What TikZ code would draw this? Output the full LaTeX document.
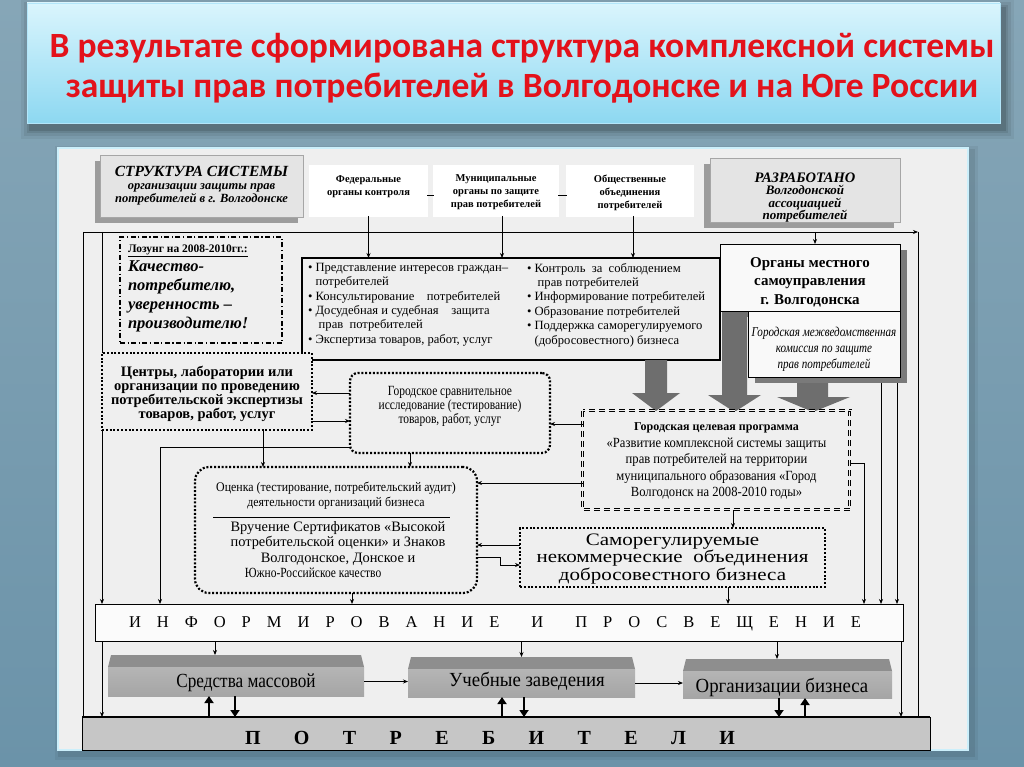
\documentclass[tikz,border=0pt]{standalone}
\usepackage{fontspec}
\setmainfont{Liberation Serif}
\newfontfamily\titlefont{Carlito}
\newfontfamily\condfont[FakeStretch=0.82]{Liberation Serif}
\newfontfamily\semicond[FakeStretch=0.9]{Liberation Serif}
\newfontfamily\widefont[FakeStretch=1.2]{Liberation Serif}
\newfontfamily\blockfont[FakeStretch=0.94]{Liberation Serif}
\newfontfamily\blockfontn[FakeStretch=0.86]{Liberation Serif}
\usetikzlibrary{arrows.meta,calc}
\definecolor{bgtop}{HTML}{86A6B7}
\definecolor{bgbot}{HTML}{6B93A9}
\definecolor{ttop}{HTML}{DAF5FD}
\definecolor{tbot}{HTML}{8DD8F1}
\definecolor{titlered}{HTML}{E3121B}
\definecolor{panel}{HTML}{EFEFEF}
\definecolor{panelbd}{HTML}{CBEFFB}
\definecolor{arrowgrey}{HTML}{6E6E6E}
\definecolor{shadowgrey}{HTML}{9C9C9C}
\definecolor{darkshadow}{HTML}{7A7A7A}
\definecolor{boxgrey}{HTML}{E4E4E4}
\definecolor{blocktop}{HTML}{8E8E8E}
\definecolor{blockfront}{HTML}{B5B5B5}
\definecolor{blockfrontb}{HTML}{A5A5A5}
\definecolor{consumer}{HTML}{C6C6C6}
\begin{document}
\begin{tikzpicture}[x=1pt,y=-1pt,
  every node/.style={inner sep=0pt,outer sep=0pt},
  ln/.style={line width=0.8pt},
  arr/.style={line width=0.8pt,-{Stealth[length=5pt,width=4pt]}},
  fat/.style={line width=2.4pt,-{Triangle[length=7pt,width=9pt]}},
  dotbox/.style={draw,line width=2.2pt,dash pattern=on 2pt off 1.8pt,fill=panel},
  topbox/.style={draw,double,double distance=1.4pt,line width=0.7pt,fill=white},
  toptext/.style={align=center,font=\bfseries\fontsize{10.5}{13}\selectfont},
  greybox/.style={draw=gray!70,line width=0.4pt,fill=boxgrey,align=center},
  bigarrow/.style={fill=arrowgrey},
  blockface/.style={top color=blockfront,bottom color=blockfrontb,draw=none},
  blocklabel/.style={font=\blockfont\fontsize{20}{20}\selectfont}
]
\useasboundingbox (0,0) rectangle (1024,767);
\shade[top color=bgtop,bottom color=bgbot] (0,0) rectangle (1024,767);
% title
\foreach \i/\o in {10/0.05,7/0.07,4/0.09,2/0.12}
  \fill[black,opacity=\o] ({31-\i},{9-\i}) rectangle ({1004+\i},{129+\i});
\shade[top color=ttop,bottom color=tbot] (27,3) rectangle (1000,123);
\draw[white!70!cyan,line width=0.8pt] (27,3) rectangle (1000,123);
\node[text=titlered,font=\titlefont\bfseries\fontsize{35.5}{40}\selectfont,align=center] (title) at (522,68)
  {В результате сформирована структура комплексной системы\\защиты прав потребителей в Волгодонске и на Юге России};
% panel
\foreach \i/\o in {6/0.05,3/0.08}
  \fill[black,opacity=\o] ({61-\i},{152-\i}) rectangle ({972+\i},{754+\i});
\draw[panelbd,line width=2.5pt,fill=panel] (58,148) rectangle (968,750);

% top-left title box
\fill[shadowgrey] (95,161) rectangle (298,223);
\node[greybox,minimum width=203pt,minimum height=62pt,font=\bfseries\itshape\fontsize{12.5}{13}\selectfont] (TL) at (201.5,186)
  {{\fontsize{15.5}{15}\selectfont СТРУКТУРА СИСТЕМЫ}\\организации защиты прав\\потребителей в г. Волгодонске};
% developed-by box
\fill[shadowgrey] (704,164) rectangle (894,228);
\node[greybox,minimum width=190pt,minimum height=64pt] (R) at (805,190) {};
\node[align=center,font=\bfseries\itshape\fontsize{13}{12.3}\selectfont] (Rt) at (805,197.5)
  {{\fontsize{14.5}{14}\selectfont РАЗРАБОТАНО}\\Волгодонской\\ассоциацией\\потребителей};
% three top boxes
\node[topbox,minimum width=117pt,minimum height=50pt] (F) at (368.5,191) {};
\node[toptext] (Ft) at (368.5,186.5) {Федеральные\\органы контроля};
\node[topbox,minimum width=124pt,minimum height=50pt] (M) at (496,191) {};
\node[toptext] (Mt) at (496,192) {Муниципальные\\органы по защите\\прав потребителей};
\node[topbox,minimum width=126pt,minimum height=50pt] (P) at (630,191) {};
\node[toptext] (Pt0) at (630,192.5) {Общественные\\объединения\\потребителей};

% list box
\node[draw,line width=2pt,fill=panel,minimum width=418pt,minimum height=102pt] (L) at (511,309) {};
\node[anchor=north west,align=left,font=\fontsize{12.6}{14.4}\selectfont] (L1) at (308,263)
  {• Представление интересов граждан–\\\hphantom{• }потребителей\\• Консультирование\quad потребителей\\• Досудебная и судебная\quad защита\\\hphantom{• }\ прав\ \ потребителей\\• Экспертиза товаров, работ, услуг};
\node[anchor=north west,align=left,font=\fontsize{12.6}{14.4}\selectfont] (L2) at (527,263)
  {• Контроль\ \ за\ \ соблюдением\\\hphantom{• }\ прав потребителей\\• Информирование потребителей\\• Образование потребителей\\• Поддержка саморегулируемого\\\hphantom{• }(добросовестного) бизнеса};

% slogan
\node[draw,line width=1.2pt,dash pattern=on 5pt off 2.5pt on 1.2pt off 2.5pt,minimum width=162pt,minimum height=106pt] (S) at (201,290) {};
\node[anchor=north west,align=left,font=\bfseries\itshape\fontsize{16.5}{19}\selectfont] (St) at (128,245)
  {{\upshape\fontsize{11.5}{13}\selectfont\underline{Лозунг на 2008-2010гг.:}}\\Качество-\\потребителю,\\уверенность –\\производителю!};

% shadows of local government boxes
\fill[darkshadow] (727,250) rectangle (907,317);
\fill[darkshadow] (755,317) rectangle (907,383);
% big grey arrows
\fill[bigarrow] (645,360) -- (667,360) -- (667,393) -- (680,393) -- (656,411) -- (632,393) -- (645,393) -- cycle;
\fill[bigarrow] (722,311) -- (747,311) -- (747,395) -- (761,395) -- (734.5,412) -- (708,395) -- (722,395) -- cycle;
\fill[bigarrow] (797,383) -- (828,383) -- (828,397) -- (850,397) -- (813,412) -- (777,397) -- (797,397) -- cycle;
% local government
\node[draw,line width=0.9pt,fill=white!95!gray,minimum width=180pt,minimum height=67pt] (O) at (810,277.5) {};
\node[align=center,font=\bfseries\fontsize{15}{18.5}\selectfont] (Ot) at (810,282)
  {Органы местного\\самоуправления\\г. Волгодонска};
\node[draw,line width=0.9pt,fill=white!95!gray,minimum width=152pt,minimum height=66pt] (C) at (824,344) {};
\node[align=center,font=\condfont\itshape\fontsize{13.5}{16}\selectfont] (Ct) at (824,349)
  {Городская межведомственная\\комиссия по защите\\прав потребителей};

% centers
\node[dotbox,minimum width=210pt,minimum height=77pt] (Ce) at (207,391.5) {};
\node[align=center,font=\bfseries\fontsize{14.5}{14}\selectfont] (Cet) at (207,394)
  {Центры, лаборатории или\\организации по проведению\\потребительской экспертизы\\товаров, работ, услуг};
% testing
\node[dotbox,rounded corners=8pt,minimum width=200pt,minimum height=80pt] (T) at (450,413) {};
\node[align=center,font=\condfont\fontsize{14}{14}\selectfont] (Tt) at (450,406)
  {Городское сравнительное\\исследование (тестирование)\\товаров, работ, услуг};
% programme
\node[fill=panel,minimum width=267pt,minimum height=99pt] (Pr) at (716.5,460.5) {};
\draw[line width=4.6pt,dash pattern=on 6pt off 4pt] (Pr.north west) rectangle (Pr.south east);
\draw[panel,line width=3pt,dash pattern=on 6pt off 4pt] (Pr.north west) rectangle (Pr.south east);
\draw[line width=0.9pt,dash pattern=on 6pt off 4pt] (Pr.north west) rectangle (Pr.south east);
\node[align=center,font=\semicond\fontsize{14}{16.5}\selectfont] (Prt) at (716.5,461)
  {{\rmfamily\bfseries\fontsize{12}{16.5}\selectfont Городская целевая программа}\\«Развитие комплексной системы защиты\\прав потребителей на территории\\муниципального образования «Город\\Волгодонск на 2008-2010 годы»};
% assessment
\node[dotbox,rounded corners=14pt,minimum width=282pt,minimum height=126pt] (As) at (336,530) {};
\node[align=center,font=\semicond\fontsize{13.2}{15}\selectfont] (Ast1) at (336,495.5)
  {Оценка (тестирование, потребительский аудит)\\деятельности организаций бизнеса};
\draw[line width=0.8pt] (213,517) -- (450,517);
\node[align=center,font=\fontsize{14.4}{15.3}\selectfont] (Ast2) at (338,549.5)
  {Вручение Сертификатов «Высокой\\потребительской оценки» и Знаков\\Волгодонское, Донское и\\\hspace*{-50pt}{\condfont\fontsize{14}{15.3}\selectfont Южно-Российское качество}};
% self-regulated
\node[dotbox,minimum width=305pt,minimum height=59pt] (Sr) at (672.5,557.5) {};
\node[align=center,font=\widefont\fontsize{17.5}{17.5}\selectfont] (Srt) at (672.5,559)
  {Саморегулируемые\\некоммерческие\ \ объединения\\добросовестного бизнеса};

% information box
\node[draw,line width=1pt,fill=white!97!gray,minimum width=808pt,minimum height=37pt] (I) at (499,622.5) {};
\node[font=\fontsize{16.5}{16.5}\selectfont] (It) at (495,624)
  {\makebox[732pt]{И\hfill Н\hfill Ф\hfill О\hfill Р\hfill М\hfill И\hfill Р\hfill О\hfill В\hfill А\hfill Н\hfill И\hfill Е\hfill\hfill И\hfill\hfill П\hfill Р\hfill О\hfill С\hfill В\hfill Е\hfill Щ\hfill Е\hfill Н\hfill И\hfill Е}};
% consumers
\node[draw,line width=1pt,fill=consumer,minimum width=848pt,minimum height=33pt] (Pt) at (506,733.5) {};
\draw[line width=2.5pt] (Pt.north west) -- (Pt.north east);
\node[font=\bfseries\fontsize{20}{20}\selectfont] (Ptt) at (490,738)
  {\makebox[490pt]{П\hfill О\hfill Т\hfill Р\hfill Е\hfill Б\hfill И\hfill Т\hfill Е\hfill Л\hfill И}};
% blocks
\fill[blocktop] (111,655) -- (361,655) -- (364,667) -- (108,667) -- cycle;
\node[blockface,minimum width=256pt,minimum height=29pt] (B1) at (236,681.5) {};
\fill[blocktop] (411,657) -- (632,657) -- (635,669) -- (408,669) -- cycle;
\node[blockface,minimum width=227pt,minimum height=28pt] (B2) at (521.5,683) {};
\fill[blocktop] (686,659) -- (889,659) -- (892,671) -- (683,671) -- cycle;
\node[blockface,minimum width=209pt,minimum height=27pt] (B3) at (787.5,684.5) {};
\node[blocklabel,font=\blockfontn\fontsize{20}{20}\selectfont] (B1t) at (246,683) {Средства массовой};
\node[blocklabel] (B2t) at (527,681) {Учебные заведения};
\node[blocklabel] (B3t) at (782,687) {Организации бизнеса};

% ---------- connectors ----------
\draw[ln] ([yshift=-4pt]F.east) -- ([yshift=-4pt]M.west);
\draw[ln] ([yshift=-4pt]M.east) -- ([yshift=-4pt]P.west);
\draw[arr] (F.south) -- (F.south |- L.north);
\draw[arr] ([xshift=6pt]M.south) -- ([xshift=6pt]M.south |- L.north);
\draw[arr] ([xshift=3pt]P.south) -- ([xshift=3pt]P.south |- L.north);
\coordinate (tl) at (83,232);
\coordinate (tr) at (918,232);
\coordinate (lc) at (102,232);
\draw[arr] (tl) -- (tr);
\draw[ln] (tl) -- (tl |- Pt.north);
\draw[ln] (tr) -- (tr |- Pt.north);
\draw[arr] ([xshift=5pt]O.north |- tl) -- ([xshift=5pt]O.north);
\draw[ln] (lc) -- (Ce.north west);
\draw[arr] (Ce.south west) -- (Ce.south west |- I.north);
\draw[arr] (lc |- I.south) -- (lc |- Pt.north);
\draw[arr] ([xshift=-2pt]I.south east) -- ([xshift=-2pt]I.south east |- Pt.north);
\coordinate (pr1) at (864,463);
\draw[arr] (Pr.east |- pr1) -- (pr1) -- (pr1 |- I.north);
\coordinate (c881) at (881,383);
\coordinate (c897) at (897,383);
\draw[arr] (c881) -- (c881 |- I.north);
\draw[arr] (c897) -- (c897 |- I.north);
\draw[arr] ([yshift=20pt]T.west) -- ([yshift=20pt]T.west -| Ce.east);
\draw[arr] ([yshift=-29.5pt]Ce.east) -- ([yshift=-29.5pt]Ce.east -| T.west);
\draw[arr] ([yshift=-11pt]T.east -| Pr.west) -- ([yshift=-11pt]T.east);
\coordinate (c1) at (160,447);
\draw[arr] (T.west |- c1) -- (c1) -- (c1 |- I.north);
\draw[arr] ([xshift=56pt]Ce.south) -- ([xshift=56pt]Ce.south |- As.north);
\draw[arr] ([xshift=-40pt]T.south) -- ([xshift=-40pt]T.south |- As.north);
\draw[arr] ([xshift=16pt]As.south) -- ([xshift=16pt]As.south |- I.north);
\coordinate (c483) at (0,483);
\coordinate (c545) at (0,545);
\coordinate (c557) at (500,557);
\coordinate (c565) at (500,565);
\draw[arr] (Pr.west |- c483) -- (As.east |- c483);
\draw[arr] (Sr.west |- c545) -- (As.east |- c545);
\draw[arr] (As.east |- c557) -- (c557) -- (c565) -- (Sr.west |- c565);
\draw[arr] ([xshift=16.5pt]Pr.south) -- ([xshift=16.5pt]Pr.south |- Sr.north);
\draw[arr] ([xshift=55.5pt]Sr.south) -- ([xshift=55.5pt]Sr.south |- I.north);
\draw[arr] ([xshift=-21pt]B1.north |- I.south) -- ([xshift=-21pt,yshift=12pt]B1.north);
\draw[arr] (B2.north |- I.south) -- ([yshift=12pt]B2.north);
\draw[arr] ([xshift=-10.5pt]B3.north |- I.south) -- ([xshift=-10.5pt,yshift=12pt]B3.north);
\draw[arr] (B1.east) -- (B1.east -| B2.west);
\draw[arr] (B2.east) -- (B2.east -| B3.west);
\draw[fat] ([xshift=-27pt]B1.south |- Pt.north) -- ([xshift=-27pt]B1.south);
\draw[fat] ([xshift=-1pt]B1.south) -- ([xshift=-1pt]B1.south |- Pt.north);
\draw[fat] ([xshift=-19.5pt]B2.south |- Pt.north) -- ([xshift=-19.5pt]B2.south);
\draw[fat] ([xshift=2.5pt]B2.south) -- ([xshift=2.5pt]B2.south |- Pt.north);
\draw[fat] ([xshift=-8.5pt]B3.south) -- ([xshift=-8.5pt]B3.south |- Pt.north);
\draw[fat] ([xshift=17.5pt]B3.south |- Pt.north) -- ([xshift=17.5pt]B3.south);
\end{tikzpicture}
\end{document}
